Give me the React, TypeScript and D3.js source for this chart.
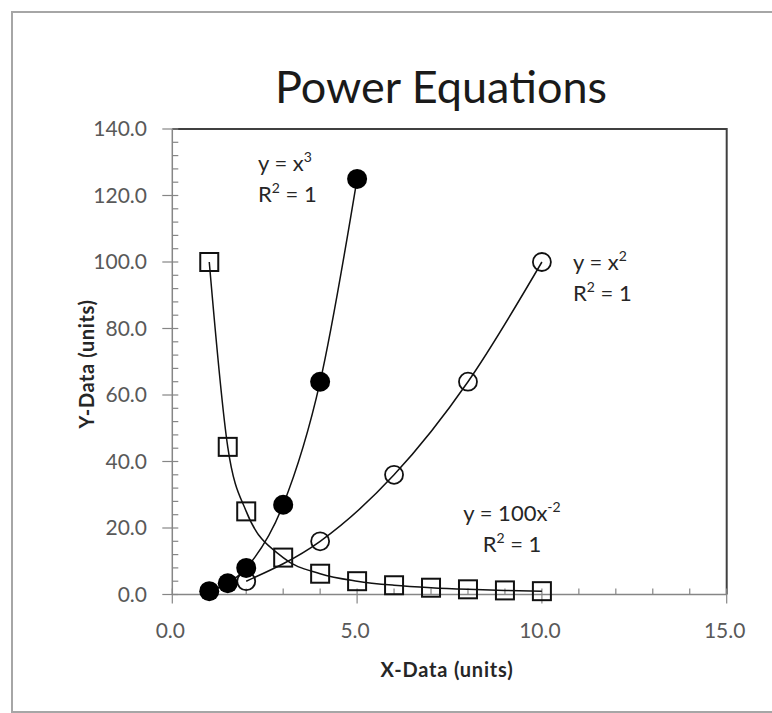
import React, { useRef, useEffect } from 'react';
import * as d3 from 'd3';

// data
const cubeX = [1, 1.5, 2, 3, 4, 5];
const cubeY = [1, 3.375, 8, 27, 64, 125];
const squareX = [2, 4, 6, 8, 10];
const squareY = [4, 16, 36, 64, 100];
const inverseX = [1, 1.5, 2, 3, 4, 5, 6, 7, 8, 9, 10];
const inverseY = [100, 44.4, 25, 11.1, 6.25, 4, 2.78, 2.04, 1.56, 1.23, 1];

const xTicks = [0, 5, 10, 15];
const yTicks = [0, 20, 40, 60, 80, 100, 120, 140];
const xMinor = [1, 2, 3, 4, 6, 7, 8, 9, 11, 12, 13, 14];
const yMinor = [4, 8, 12, 16, 24, 28, 32, 36, 44, 48, 52, 56, 64, 68, 72, 76, 84, 88, 92, 96, 104, 108, 112, 116, 124, 128, 132, 136];

const FONT = 'Lato, "Open Sans", sans-serif';

const App = () => {
  const ref = useRef<SVGSVGElement>(null);

  useEffect(() => {
    const svg = d3.select(ref.current);
    svg.selectAll('*').remove();

    const x = d3.scaleLinear().domain([0, 15]).range([172.3, 726.7]);
    const y = d3.scaleLinear().domain([0, 140]).range([594.5, 129]);

    // outer chart border
    svg.append('rect')
      .attr('x', 12).attr('y', 12)
      .attr('width', 900).attr('height', 700)
      .attr('fill', 'white')
      .attr('stroke', '#a6a6a6')
      .attr('stroke-width', 2);

    svg.append('text')
      .attr('x', 441).attr('y', 103)
      .attr('text-anchor', 'middle')
      .attr('font-family', FONT)
      .attr('font-size', 45)
      .attr('fill', '#1a1a1a')
      .text('Power Equations');

    // top and right frame
    svg.append('path')
      .attr('d', `M${x(0)},${y(140)}H${x(15)}V${y(0)}`)
      .attr('fill', 'none')
      .attr('stroke', '#404040')
      .attr('stroke-width', 2);

    // axes
    const axisColor = '#868686';
    svg.append('line')
      .attr('x1', x(0)).attr('x2', x(0))
      .attr('y1', y(0)).attr('y2', y(140))
      .attr('stroke', axisColor).attr('stroke-width', 1.5);
    svg.append('line')
      .attr('x1', x(0)).attr('x2', x(15))
      .attr('y1', y(0)).attr('y2', y(0))
      .attr('stroke', axisColor).attr('stroke-width', 1.5);

    svg.selectAll('.ymaj').data(yTicks).join('line')
      .attr('x1', x(0) - 10).attr('x2', x(0) + 6)
      .attr('y1', d => y(d)).attr('y2', d => y(d))
      .attr('stroke', axisColor).attr('stroke-width', 1.2);
    svg.selectAll('.ymin').data(yMinor).join('line')
      .attr('x1', x(0)).attr('x2', x(0) + 6)
      .attr('y1', d => y(d)).attr('y2', d => y(d))
      .attr('stroke', axisColor).attr('stroke-width', 1.2);
    svg.selectAll('.xmaj').data(xTicks).join('line')
      .attr('x1', d => x(d)).attr('x2', d => x(d))
      .attr('y1', y(0) - 6).attr('y2', y(0) + 9)
      .attr('stroke', axisColor).attr('stroke-width', 1.2);
    svg.selectAll('.xmin').data(xMinor).join('line')
      .attr('x1', d => x(d)).attr('x2', d => x(d))
      .attr('y1', y(0) - 6).attr('y2', y(0))
      .attr('stroke', axisColor).attr('stroke-width', 1.2);

    svg.selectAll('.ylab').data(yTicks).join('text')
      .attr('x', 147).attr('y', d => y(d) + 7)
      .attr('text-anchor', 'end')
      .attr('font-family', FONT).attr('font-size', 21)
      .attr('fill', '#595959')
      .text(d => d.toFixed(1));
    svg.selectAll('.xlab').data(xTicks).join('text')
      .attr('x', d => x(d) - 2).attr('y', 638)
      .attr('text-anchor', 'middle')
      .attr('font-family', FONT).attr('font-size', 21)
      .attr('fill', '#595959')
      .text(d => d.toFixed(1));

    svg.append('text')
      .attr('x', 447).attr('y', 677)
      .attr('text-anchor', 'middle')
      .attr('font-family', FONT).attr('font-size', 20).attr('font-weight', 'bold')
      .attr('letter-spacing', 0.8)
      .attr('fill', '#262626')
      .text('X-Data (units)');
    svg.append('text')
      .attr('transform', `translate(94,${364}) rotate(-90)`)
      .attr('text-anchor', 'middle')
      .attr('font-family', FONT).attr('font-size', 20).attr('font-weight', 'bold')
      .attr('letter-spacing', 0.6)
      .attr('fill', '#262626')
      .text('Y-Data (units)');

    // trendlines
    const line = d3.line<[number, number]>()
      .x(d => x(d[0])).y(d => y(d[1]))
      .curve(d3.curveMonotoneX);
    const series = [
      d3.zip(inverseX, inverseY),
      d3.zip(squareX, squareY),
      d3.zip(cubeX, cubeY),
    ];
    series.forEach(s => {
      svg.append('path')
        .attr('d', line(s as [number, number][]))
        .attr('fill', 'none')
        .attr('stroke', '#111')
        .attr('stroke-width', 1.5);
    });

    // markers
    svg.selectAll('.sq').data(d3.zip(inverseX, inverseY)).join('rect')
      .attr('x', d => x(d[0]) - 9).attr('y', d => y(d[1]) - 9)
      .attr('width', 18).attr('height', 18)
      .attr('fill', 'none').attr('stroke', '#111').attr('stroke-width', 2);
    svg.selectAll('.oc').data(d3.zip(squareX, squareY)).join('circle')
      .attr('cx', d => x(d[0])).attr('cy', d => y(d[1]))
      .attr('r', 9)
      .attr('fill', 'none').attr('stroke', '#111').attr('stroke-width', 1.8);
    svg.selectAll('.fc').data(d3.zip(cubeX, cubeY)).join('circle')
      .attr('cx', d => x(d[0])).attr('cy', d => y(d[1]))
      .attr('r', 10)
      .attr('fill', '#000');

    // equation labels
    const eq = (cx: number, cy: number, base: string, sup: string, anchor: string) => {
      const g = svg.append('g')
        .attr('font-family', FONT).attr('font-size', 22).attr('fill', '#262626')
        .attr('text-anchor', anchor);
      const t1 = g.append('text').attr('x', cx).attr('y', cy);
      t1.append('tspan').text(base);
      t1.append('tspan').attr('font-size', 14).attr('dy', -9).text(sup);
      const t2 = g.append('text').attr('x', cx).attr('y', cy + 31);
      t2.append('tspan').text('R');
      t2.append('tspan').attr('font-size', 14).attr('dy', -9).text('2');
      t2.append('tspan').attr('dy', 9).text(' = 1');
    };
    eq(258, 171, 'y = x', '3', 'start');
    eq(573, 270, 'y = x', '2', 'start');
    eq(512, 521, 'y = 100x', '-2', 'middle');
  }, []);

  return (
    <svg ref={ref} width={772} height={713}
      style={{ position: 'absolute', left: 0, top: 0, background: 'white' }} />
  );
};

export default App;
